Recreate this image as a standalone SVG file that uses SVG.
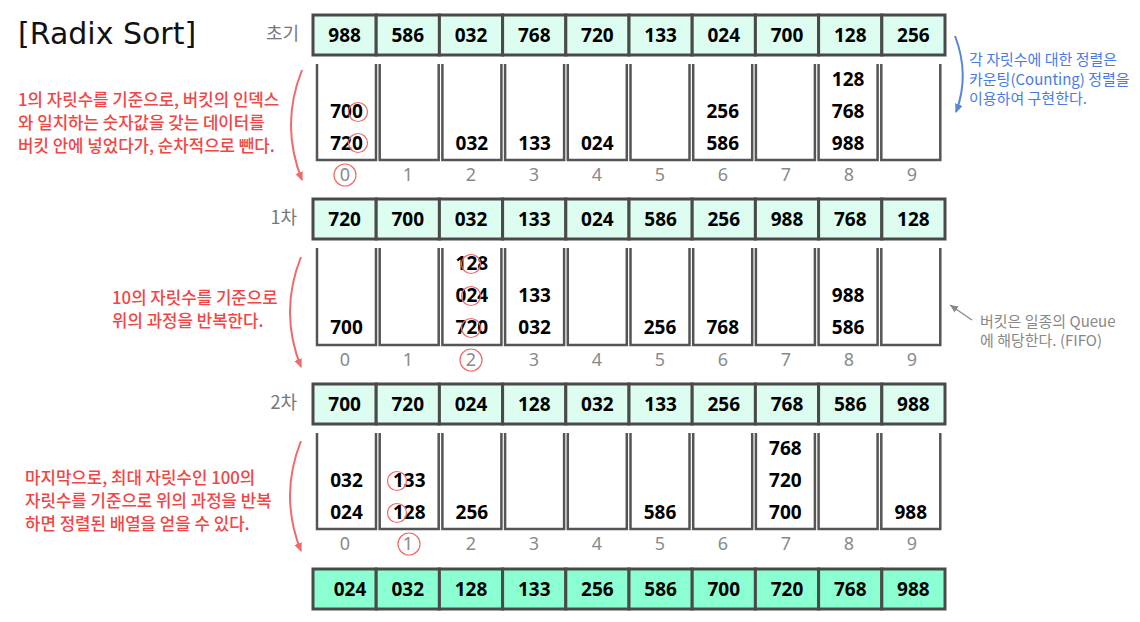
<svg xmlns="http://www.w3.org/2000/svg" width="1140" height="622" viewBox="0 0 1140 622">
<style>
.cell{fill:#dcfdef;stroke:#4a4a4a;stroke-width:3}
.fcell{fill:#8cffd2;stroke:#4a4a4a;stroke-width:3}
.num{font-family:"Noto Sans","Noto Sans CJK KR",sans-serif;font-weight:bold;font-size:19px;fill:#000;text-anchor:middle}
.idx{font-family:"Noto Sans","Noto Sans CJK KR",sans-serif;font-size:18px;fill:#8a8a8a;text-anchor:middle}
.bucket{fill:none;stroke:#555;stroke-width:2.5}
.rowlbl{font-family:"Noto Sans CJK KR",sans-serif;font-size:18px;fill:#777;text-anchor:end}
.red{font-family:"Noto Sans CJK KR",sans-serif;font-size:16.8px;font-weight:500;fill:#f04646}
.blue{font-family:"Noto Sans CJK KR",sans-serif;font-size:15px;fill:#4a7be4}
.gray{font-family:"Noto Sans CJK KR",sans-serif;font-size:15px;fill:#888}
.mark{fill:none;stroke:#f06a6a;stroke-width:1.2}
.rarrow{fill:none;stroke:#ef6a6a;stroke-width:2}
.barrow{fill:none;stroke:#5a84e0;stroke-width:2}
.garrow{fill:none;stroke:#888;stroke-width:1.3}
</style>
<defs>
<marker id="mr" markerWidth="10" markerHeight="10" refX="8" refY="5" orient="auto" markerUnits="userSpaceOnUse"><path d="M0,1 L9,5 L0,9 Z" fill="#ef6a6a"/></marker>
<marker id="mb" markerWidth="10" markerHeight="10" refX="8" refY="5" orient="auto" markerUnits="userSpaceOnUse"><path d="M0,1 L9,5 L0,9 Z" fill="#5a84e0"/></marker>
<marker id="mg" markerWidth="10" markerHeight="10" refX="8" refY="5" orient="auto" markerUnits="userSpaceOnUse"><path d="M0,1.5 L8,5 L0,8.5 Z" fill="#888"/></marker>
</defs>

<text x="18" y="44" font-family="'DejaVu Sans', sans-serif" font-size="30" fill="#111">[Radix Sort]</text>

<!-- Row labels -->
<text class="rowlbl" x="299" y="40">초기</text>
<text class="rowlbl" x="297" y="224">1차</text>
<text class="rowlbl" x="297" y="409">2차</text>

<!-- Row 0: initial -->
<g id="row-initial">
<rect class="cell" x="313" y="15" width="63.2" height="40"/><rect class="cell" x="376.2" y="15" width="63.2" height="40"/><rect class="cell" x="439.4" y="15" width="63.2" height="40"/><rect class="cell" x="502.6" y="15" width="63.2" height="40"/><rect class="cell" x="565.8" y="15" width="63.2" height="40"/><rect class="cell" x="629" y="15" width="63.2" height="40"/><rect class="cell" x="692.2" y="15" width="63.2" height="40"/><rect class="cell" x="755.4" y="15" width="63.2" height="40"/><rect class="cell" x="818.6" y="15" width="63.2" height="40"/><rect class="cell" x="881.8" y="15" width="63.2" height="40"/>
<text class="num" y="42"><tspan x="344.6">988</tspan><tspan x="407.8">586</tspan><tspan x="471">032</tspan><tspan x="534.2">768</tspan><tspan x="597.4">720</tspan><tspan x="660.6">133</tspan><tspan x="723.8">024</tspan><tspan x="787">700</tspan><tspan x="850.2">128</tspan><tspan x="913.4">256</tspan></text>
</g>

<!-- Buckets pass 1 -->
<g id="buckets-1">
<path class="bucket" d="M317,64V160H376V64 M379.7,64V160H438.7V64 M442.4,64V160H501.4V64 M505.1,64V160H564.1V64 M567.8,64V160H626.8V64 M630.5,64V160H689.5V64 M693.2,64V160H752.2V64 M755.9,64V160H814.9V64 M818.6,64V160H877.6V64 M881.3,64V160H940.3V64"/>
<text class="num"><tspan x="346.5" y="118">700</tspan><tspan x="346.5" y="150">720</tspan><tspan x="471.9" y="150">032</tspan><tspan x="534.6" y="150">133</tspan><tspan x="597.3" y="150">024</tspan><tspan x="722.7" y="118">256</tspan><tspan x="722.7" y="150">586</tspan><tspan x="848.1" y="86">128</tspan><tspan x="848.1" y="118">768</tspan><tspan x="848.1" y="150">988</tspan></text>
<text class="idx" y="181"><tspan x="345">0</tspan><tspan x="408">1</tspan><tspan x="471">2</tspan><tspan x="534">3</tspan><tspan x="597">4</tspan><tspan x="660">5</tspan><tspan x="723">6</tspan><tspan x="786">7</tspan><tspan x="849">8</tspan><tspan x="912">9</tspan></text>
<circle class="mark" cx="358" cy="112" r="9.5"/><circle class="mark" cx="358" cy="143" r="9.5"/><circle class="mark" cx="345" cy="175" r="11"/>
</g>

<!-- Row 1 -->
<g id="row-pass1">
<rect class="cell" x="313" y="199" width="63.2" height="40"/><rect class="cell" x="376.2" y="199" width="63.2" height="40"/><rect class="cell" x="439.4" y="199" width="63.2" height="40"/><rect class="cell" x="502.6" y="199" width="63.2" height="40"/><rect class="cell" x="565.8" y="199" width="63.2" height="40"/><rect class="cell" x="629" y="199" width="63.2" height="40"/><rect class="cell" x="692.2" y="199" width="63.2" height="40"/><rect class="cell" x="755.4" y="199" width="63.2" height="40"/><rect class="cell" x="818.6" y="199" width="63.2" height="40"/><rect class="cell" x="881.8" y="199" width="63.2" height="40"/>
<text class="num" y="226"><tspan x="344.6">720</tspan><tspan x="407.8">700</tspan><tspan x="471">032</tspan><tspan x="534.2">133</tspan><tspan x="597.4">024</tspan><tspan x="660.6">586</tspan><tspan x="723.8">256</tspan><tspan x="787">988</tspan><tspan x="850.2">768</tspan><tspan x="913.4">128</tspan></text>
</g>

<!-- Buckets pass 2 -->
<g id="buckets-2">
<path class="bucket" d="M317,248V345H376V248 M379.7,248V345H438.7V248 M442.4,248V345H501.4V248 M505.1,248V345H564.1V248 M567.8,248V345H626.8V248 M630.5,248V345H689.5V248 M693.2,248V345H752.2V248 M755.9,248V345H814.9V248 M818.6,248V345H877.6V248 M881.3,248V345H940.3V248"/>
<text class="num"><tspan x="346.5" y="334">700</tspan><tspan x="471.9" y="270">128</tspan><tspan x="471.9" y="302">024</tspan><tspan x="471.9" y="334">720</tspan><tspan x="534.6" y="302">133</tspan><tspan x="534.6" y="334">032</tspan><tspan x="660" y="334">256</tspan><tspan x="722.7" y="334">768</tspan><tspan x="848.1" y="302">988</tspan><tspan x="848.1" y="334">586</tspan></text>
<text class="idx" y="366"><tspan x="345">0</tspan><tspan x="408">1</tspan><tspan x="471">2</tspan><tspan x="534">3</tspan><tspan x="597">4</tspan><tspan x="660">5</tspan><tspan x="723">6</tspan><tspan x="786">7</tspan><tspan x="849">8</tspan><tspan x="912">9</tspan></text>
<circle class="mark" cx="471" cy="264" r="9.5"/><circle class="mark" cx="471" cy="296" r="9.5"/><circle class="mark" cx="471" cy="328" r="9.5"/><circle class="mark" cx="471" cy="360" r="11"/>
</g>

<!-- Row 2 -->
<g id="row-pass2">
<rect class="cell" x="313" y="384" width="63.2" height="40"/><rect class="cell" x="376.2" y="384" width="63.2" height="40"/><rect class="cell" x="439.4" y="384" width="63.2" height="40"/><rect class="cell" x="502.6" y="384" width="63.2" height="40"/><rect class="cell" x="565.8" y="384" width="63.2" height="40"/><rect class="cell" x="629" y="384" width="63.2" height="40"/><rect class="cell" x="692.2" y="384" width="63.2" height="40"/><rect class="cell" x="755.4" y="384" width="63.2" height="40"/><rect class="cell" x="818.6" y="384" width="63.2" height="40"/><rect class="cell" x="881.8" y="384" width="63.2" height="40"/>
<text class="num" y="411"><tspan x="344.6">700</tspan><tspan x="407.8">720</tspan><tspan x="471">024</tspan><tspan x="534.2">128</tspan><tspan x="597.4">032</tspan><tspan x="660.6">133</tspan><tspan x="723.8">256</tspan><tspan x="787">768</tspan><tspan x="850.2">586</tspan><tspan x="913.4">988</tspan></text>
</g>

<!-- Buckets pass 3 -->
<g id="buckets-3">
<path class="bucket" d="M317,433V529H376V433 M379.7,433V529H438.7V433 M442.4,433V529H501.4V433 M505.1,433V529H564.1V433 M567.8,433V529H626.8V433 M630.5,433V529H689.5V433 M693.2,433V529H752.2V433 M755.9,433V529H814.9V433 M818.6,433V529H877.6V433 M881.3,433V529H940.3V433"/>
<text class="num"><tspan x="346.5" y="487">032</tspan><tspan x="346.5" y="519">024</tspan><tspan x="409.2" y="487">133</tspan><tspan x="409.2" y="519">128</tspan><tspan x="471.9" y="519">256</tspan><tspan x="660" y="519">586</tspan><tspan x="785.4" y="455">768</tspan><tspan x="785.4" y="487">720</tspan><tspan x="785.4" y="519">700</tspan><tspan x="910.8" y="519">988</tspan></text>
<text class="idx" y="550"><tspan x="345">0</tspan><tspan x="408">1</tspan><tspan x="471">2</tspan><tspan x="534">3</tspan><tspan x="597">4</tspan><tspan x="660">5</tspan><tspan x="723">6</tspan><tspan x="786">7</tspan><tspan x="849">8</tspan><tspan x="912">9</tspan></text>
<circle class="mark" cx="397" cy="481" r="9.5"/><circle class="mark" cx="397" cy="513" r="9.5"/><circle class="mark" cx="409" cy="544" r="11"/>
</g>

<!-- Final row -->
<g id="row-final">
<rect class="fcell" x="313" y="569" width="63.2" height="40"/><rect class="fcell" x="376.2" y="569" width="63.2" height="40"/><rect class="fcell" x="439.4" y="569" width="63.2" height="40"/><rect class="fcell" x="502.6" y="569" width="63.2" height="40"/><rect class="fcell" x="565.8" y="569" width="63.2" height="40"/><rect class="fcell" x="629" y="569" width="63.2" height="40"/><rect class="fcell" x="692.2" y="569" width="63.2" height="40"/><rect class="fcell" x="755.4" y="569" width="63.2" height="40"/><rect class="fcell" x="818.6" y="569" width="63.2" height="40"/><rect class="fcell" x="881.8" y="569" width="63.2" height="40"/>
<text class="num" y="596"><tspan x="350">024</tspan><tspan x="407.8">032</tspan><tspan x="471">128</tspan><tspan x="534.2">133</tspan><tspan x="597.4">256</tspan><tspan x="660.6">586</tspan><tspan x="723.8">700</tspan><tspan x="787">720</tspan><tspan x="850.2">768</tspan><tspan x="913.4">988</tspan></text>
</g>

<!-- Annotations -->
<g id="note-1">
<text class="red"><tspan x="18" y="106">1의 자릿수를 기준으로, 버킷의 인덱스</tspan><tspan x="18" y="129">와 일치하는 숫자값을 갖는 데이터를</tspan><tspan x="18" y="152">버킷 안에 넣었다가, 순차적으로 뺀다.</tspan></text>
</g>
<g id="note-2">
<text class="red"><tspan x="112" y="304">10의 자릿수를 기준으로</tspan><tspan x="112" y="327">위의 과정을 반복한다.</tspan></text>
</g>
<g id="note-3">
<text class="red"><tspan x="25" y="484">마지막으로, 최대 자릿수인 100의</tspan><tspan x="25" y="507">자릿수를 기준으로 위의 과정을 반복</tspan><tspan x="25" y="530">하면 정렬된 배열을 얻을 수 있다.</tspan></text>
</g>
<g id="note-counting">
<text class="blue"><tspan x="969" y="65">각 자릿수에 대한 정렬은</tspan><tspan x="969" y="85">카운팅(Counting) 정렬을</tspan><tspan x="969" y="104">이용하여 구현한다.</tspan></text>
</g>
<g id="note-queue">
<text class="gray"><tspan x="980" y="327">버킷은 일종의 Queue</tspan><tspan x="980" y="346">에 해당한다. (FIFO)</tspan></text>
</g>

<!-- Connectors -->
<g id="connectors">
<path class="rarrow" d="M302,70 Q280,125 302,180" marker-end="url(#mr)"/>
<path class="rarrow" d="M301,257 Q279,312 301,367" marker-end="url(#mr)"/>
<path class="rarrow" d="M301,441 Q279,496 301,551" marker-end="url(#mr)"/>
<path class="barrow" d="M955,36 Q970,75 956,112" marker-end="url(#mb)"/>
<path class="garrow" d="M972,320 L950,305" marker-end="url(#mg)"/>
</g>
</svg>
